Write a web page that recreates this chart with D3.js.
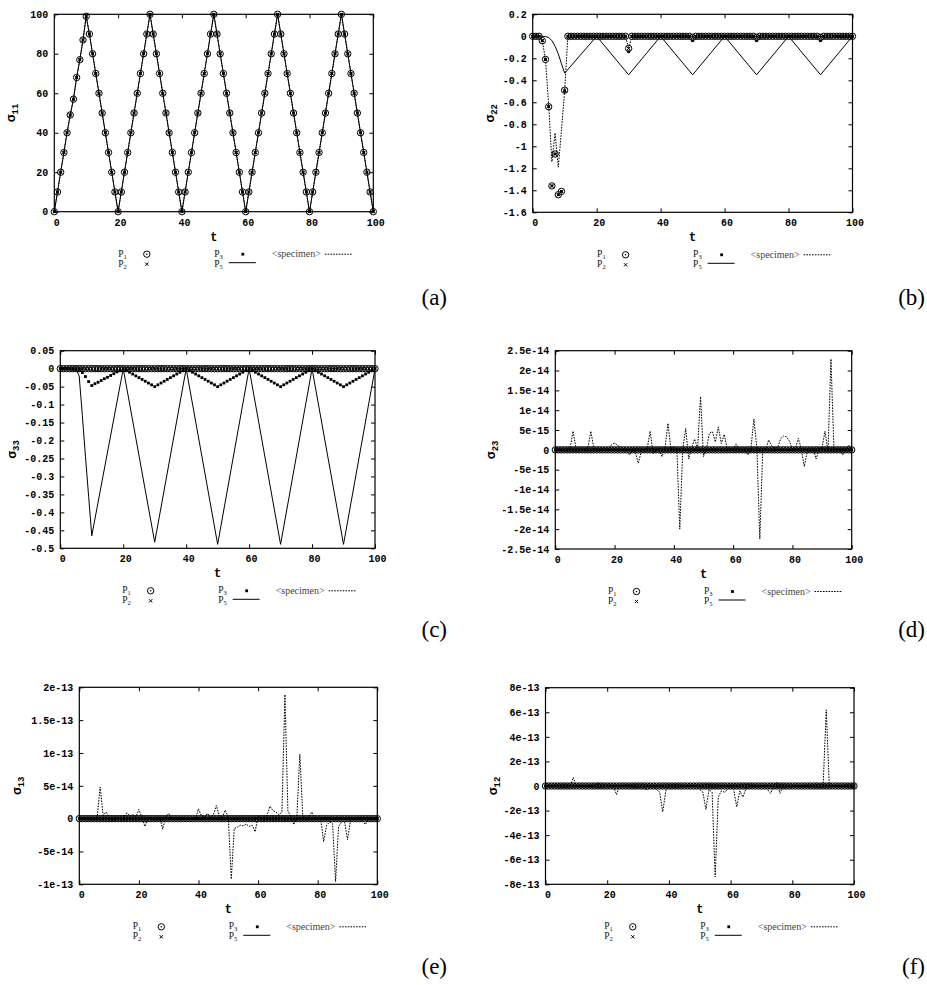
<!DOCTYPE html>
<html>
<head>
<meta charset="utf-8">
<script src="https://cdn.jsdelivr.net/npm/d3@7"></script>
<style>
  html, body { margin: 0; padding: 0; background: #fff; }
  svg { display: block; }
</style>
</head>
<body>
<div id="chart"></div>
<script>
// time steps of the solver output
const tSteps = [
  0,1,2,3,4,5,6,7,8,9,10,11,12,13,14,15,16,17,18,19,
  20,21,22,23,24,25,26,27,28,29,30,31,32,33,34,35,36,37,38,39,
  40,41,42,43,44,45,46,47,48,49,50,51,52,53,54,55,56,57,58,59,
  60,61,62,63,64,65,66,67,68,69,70,71,72,73,74,75,76,77,78,79,
  80,81,82,83,84,85,86,87,88,89,90,91,92,93,94,95,96,97,98,99,100
];
const xTickValues = [0, 20, 40, 60, 80, 100];

const zeroRow = [
  0,0,0,0,0,0,0,0,0,0,0,0,0,0,0,0,0,0,0,0,
  0,0,0,0,0,0,0,0,0,0,0,0,0,0,0,0,0,0,0,0,
  0,0,0,0,0,0,0,0,0,0,0,0,0,0,0,0,0,0,0,0,
  0,0,0,0,0,0,0,0,0,0,0,0,0,0,0,0,0,0,0,0,
  0,0,0,0,0,0,0,0,0,0,0,0,0,0,0,0,0,0,0,0,0
];

// (a) sigma_11 - all models coincide
const sigma11 = [
  0,10,20,30,40,49,57,68,77,87,99,
  90,80,70,60,50,40,30,20,10,0,
  10,20,30,40,50,60,70,80,90,100,
  90,80,70,60,50,40,30,20,10,0,
  10,20,30,40,50,60,70,80,90,100,
  90,80,70,60,50,40,30,20,10,0,
  10,20,30,40,50,60,70,80,90,100,
  90,80,70,60,50,40,30,20,10,0,
  10,20,30,40,50,60,70,80,90,100,
  90,80,70,60,50,40,30,20,10,0
];
const sigma11Ticks = [0, 20, 40, 60, 80, 100];
const sigma11Labels = ["0", "20", "40", "60", "80", "100"];

// (b) sigma_22
const sigma22P1 = [
  0,0,0,-0.04,-0.21,-0.64,-1.36,-1.07,-1.44,-1.41,-0.49,
  0,0,0,0,0,0,0,0,0,0,
  0,0,0,0,0,0,0,0,0,-0.11,
  0,0,0,0,0,0,0,0,0,0,
  0,0,0,0,0,0,0,0,0,-0.01,
  0,0,0,0,0,0,0,0,0,0,
  0,0,0,0,0,0,0,0,0,-0.01,
  0,0,0,0,0,0,0,0,0,0,
  0,0,0,0,0,0,0,0,0,-0.01,
  0,0,0,0,0,0,0,0,0,0
];
const sigma22P3 = [
  0,0,0,-0.04,-0.21,-0.64,-1.36,-1.07,-1.44,-1.41,-0.5,
  0,0,0,0,0,0,0,0,0,0,
  0,0,0,0,0,0,0,0,0,-0.14,
  0,0,0,0,0,0,0,0,0,0,
  0,0,0,0,0,0,0,0,0,-0.04,
  0,0,0,0,0,0,0,0,0,0,
  0,0,0,0,0,0,0,0,0,-0.04,
  0,0,0,0,0,0,0,0,0,0,
  0,0,0,0,0,0,0,0,0,-0.04,
  0,0,0,0,0,0,0,0,0,0
];
const sigma22Specimen = [
  0,0,0,-0.04,-0.21,-0.63,-1.14,-0.88,-1.19,-0.85,-0.49,
  0,0,0,0,0,0,0,0,0,0,
  0,0,0,0,0,0,0,0,0,-0.11,
  0,0,0,0,0,0,0,0,0,0,
  0,0,0,0,0,0,0,0,0,0,
  0,0,0,0,0,0,0,0,0,0,
  0,0,0,0,0,0,0,0,0,0,
  0,0,0,0,0,0,0,0,0,0,
  0,0,0,0,0,0,0,0,0,0,
  0,0,0,0,0,0,0,0,0,0
];
const sigma22P5Time = [0, 1, 2, 3, 4, 5, 6, 7, 8, 9, 10, 20, 30, 40, 50, 60, 70, 80, 90, 100];
const sigma22P5 = [0, 0, 0, 0, -0.003, -0.01, -0.04, -0.09, -0.16, -0.25, -0.335, 0, -0.35, 0, -0.35, 0, -0.35, 0, -0.35, 0];
const sigma22Ticks = [0.2, 0, -0.2, -0.4, -0.6, -0.8, -1, -1.2, -1.4, -1.6];
const sigma22Labels = ["0.2", "0", "-0.2", "-0.4", "-0.6", "-0.8", "-1", "-1.2", "-1.4", "-1.6"];

// (c) sigma_33
const sigma33P3 = [
  0,0,0,0,0,0,-0.004,-0.011,-0.022,-0.036,-0.047,
  -0.042,-0.038,-0.033,-0.028,-0.024,-0.019,-0.014,-0.009,-0.005,0,
  -0.005,-0.010,-0.015,-0.020,-0.025,-0.030,-0.035,-0.040,-0.045,-0.050,
  -0.045,-0.040,-0.035,-0.030,-0.025,-0.020,-0.015,-0.010,-0.005,0,
  -0.005,-0.010,-0.015,-0.020,-0.025,-0.030,-0.035,-0.040,-0.045,-0.050,
  -0.045,-0.040,-0.035,-0.030,-0.025,-0.020,-0.015,-0.010,-0.005,0,
  -0.005,-0.010,-0.015,-0.020,-0.025,-0.030,-0.035,-0.040,-0.045,-0.050,
  -0.045,-0.040,-0.035,-0.030,-0.025,-0.020,-0.015,-0.010,-0.005,0,
  -0.005,-0.010,-0.015,-0.020,-0.025,-0.030,-0.035,-0.040,-0.045,-0.050,
  -0.045,-0.040,-0.035,-0.030,-0.025,-0.020,-0.015,-0.010,-0.005,0
];
const sigma33P5Time = [0, 5, 6, 7, 8, 9, 10, 20, 30, 40, 50, 60, 70, 80, 90, 100];
const sigma33P5 = [0, -0.002, -0.02, -0.13, -0.245, -0.355, -0.465, 0, -0.483, 0, -0.489, 0, -0.489, 0, -0.489, 0];
const sigma33Ticks = [0.05, 0, -0.05, -0.1, -0.15, -0.2, -0.25, -0.3, -0.35, -0.4, -0.45, -0.5];
const sigma33Labels = ["0.05", "0", "-0.05", "-0.1", "-0.15", "-0.2", "-0.25", "-0.3", "-0.35", "-0.4", "-0.45", "-0.5"];

// (d) sigma_23 specimen, in units of 1e-15
const sigma23Specimen = [
  0,0,0,0,-0.3,0.5,4.7,0.3,0,0.2,0,
  0.5,4.7,0.3,0,0,0,0,0.3,1.3,1.7,
  1.2,0.2,0,-0.3,-1.3,-0.2,-0.5,-3.4,-0.4,0,
  0.3,4.7,-1.0,0,0,-1.7,0.3,6.7,0.2,0.8,
  0.3,-20,0.2,5.4,-2.3,0.5,2.7,0.4,13.4,-1.7,
  0.3,4.2,4.6,2.0,5.8,1.6,3.9,0.3,0,0.2,
  1.5,0,0,0,-1.3,0.4,7.8,0.5,-22.5,0.3,
  0.2,2.5,1.0,0.6,0.5,2.8,3.5,3.3,2.2,0.2,
  0.3,2.9,0.2,-4.2,-0.5,0,0.3,-2.3,0.2,0.5,
  4.7,-0.5,22.9,0.4,0.2,0,-1.3,0,1.2,0
];
const sigma23Ticks = [25, 20, 15, 10, 5, 0, -5, -10, -15, -20, -25];
const sigma23Labels = ["2.5e-14", "2e-14", "1.5e-14", "1e-14", "5e-15", "0", "-5e-15", "-1e-14", "-1.5e-14", "-2e-14", "-2.5e-14"];

// (e) sigma_13 specimen, in units of 1e-14
const sigma13Specimen = [
  0,0,0,0,0,0,0.3,4.8,0.5,1.0,0.2,
  -0.4,0,0,0,0.2,0.9,0.4,0.6,0.3,1.4,
  0.2,-1.2,0,0,0,0,0.2,-1.6,0.3,0.8,
  0,0,0,0,0,0,0,0,0,1.5,
  0.4,0.2,0.8,0.2,0.6,2.0,0.4,0.3,1.3,0.2,
  -9.2,-1.5,-1.3,-1.0,-1.1,-0.8,-1.2,-1.0,-2.0,0.4,
  0,0.2,0.5,1.9,1.2,1.0,0.6,1.0,18.9,1.2,
  0.2,-0.9,0.2,9.8,0.4,0,0.2,1.0,0.2,0,
  0,-3.5,-1.0,-0.5,-0.8,-9.6,-1.2,-0.5,-0.4,-3.2,
  -0.3,0,0,0,-0.3,-0.9,0,0,0,0
];
const sigma13Ticks = [20, 15, 10, 5, 0, -5, -10];
const sigma13Labels = ["2e-13", "1.5e-13", "1e-13", "5e-14", "0", "-5e-14", "-1e-13"];

// (f) sigma_12 specimen, in units of 1e-13
const sigma12Specimen = [
  0,0,0,0,0,0,0,0,0,0.7,0,
  0,0,0,0,0,0,0.3,0,0,0,
  0,0,-0.7,0,0,0.1,0,0,0,0,
  0,-0.2,-0.3,-0.1,0,-0.3,-0.5,-2.1,-0.4,0,
  0,0,0,0,0,0,0,0,0,-0.3,
  -0.5,-1.9,-0.3,-0.5,-7.4,-0.9,-0.4,-0.5,-0.3,0,
  -0.3,-1.7,-0.4,-0.9,-0.2,0,0,0,0,0,
  0,-0.3,-0.6,0,0.3,-0.6,0,0,0,0,
  0,0,0,0,0,0,0,0,0,0.1,
  6.2,0,0,0,0,0,0,0,0,0
];
const sigma12Ticks = [8, 6, 4, 2, 0, -2, -4, -6, -8];
const sigma12Labels = ["8e-13", "6e-13", "4e-13", "2e-13", "0", "-2e-13", "-4e-13", "-6e-13", "-8e-13"];

const flatTime = [0, 100];
const flatLine = [0, 0];

// ---------------------------------------------------------------
const width = 927, height = 985;
const monoFont = "'Liberation Mono', 'Courier New', monospace";
const serifFont = "'Liberation Serif', 'Times New Roman', serif";

const svg = d3.select("#chart")
  .append("svg")
  .attr("width", width)
  .attr("height", height)
  .attr("viewBox", `0 0 ${width} ${height}`)
  .attr("xmlns", "http://www.w3.org/2000/svg");

svg.append("rect").attr("width", width).attr("height", height).attr("fill", "#fff");

const panels = [
  { tag: "(a)", sub: "11", left: 54.3, right: 373.3, top: 14.3, bottom: 211.7, ylabX: 15,
    domain: [0, 100], ticks: sigma11Ticks, labels: sigma11Labels,
    p1: sigma11, p2: sigma11, p3: sigma11, p5t: tSteps, p5: sigma11, spec: sigma11,
    tagX: 447, tagY: 305 },
  { tag: "(b)", sub: "22", left: 532.7, right: 852.5, top: 14.3, bottom: 212.3, ylabX: 493.5,
    domain: [-1.6, 0.2], ticks: sigma22Ticks, labels: sigma22Labels,
    p1: sigma22P1, p2: sigma22P1, p3: sigma22P3, p5t: sigma22P5Time, p5: sigma22P5, spec: sigma22Specimen,
    tagX: 925, tagY: 305 },
  { tag: "(c)", sub: "33", left: 60.3, right: 375, top: 350.7, bottom: 548.3, ylabX: 16,
    domain: [-0.5, 0.05], ticks: sigma33Ticks, labels: sigma33Labels,
    p1: zeroRow, p2: zeroRow, p3: sigma33P3, p5t: sigma33P5Time, p5: sigma33P5, spec: zeroRow,
    tagX: 447, tagY: 637 },
  { tag: "(d)", sub: "23", left: 555.3, right: 851.7, top: 350.7, bottom: 549, ylabX: 495,
    domain: [-25, 25], ticks: sigma23Ticks, labels: sigma23Labels,
    p1: zeroRow, p2: zeroRow, p3: zeroRow, p5t: flatTime, p5: flatLine, spec: sigma23Specimen,
    tagX: 925, tagY: 637 },
  { tag: "(e)", sub: "13", left: 79.3, right: 377.3, top: 687.3, bottom: 884.3, ylabX: 21,
    domain: [-10, 20], ticks: sigma13Ticks, labels: sigma13Labels,
    p1: zeroRow, p2: zeroRow, p3: zeroRow, p5t: flatTime, p5: flatLine, spec: sigma13Specimen,
    tagX: 447, tagY: 974 },
  { tag: "(f)", sub: "12", left: 545.5, right: 854, top: 687.7, bottom: 884.3, ylabX: 497,
    domain: [-8, 8], ticks: sigma12Ticks, labels: sigma12Labels,
    p1: zeroRow, p2: zeroRow, p3: zeroRow, p5t: flatTime, p5: flatLine, spec: sigma12Specimen,
    tagX: 925, tagY: 974 }
];

// marker helpers
function circleMarks(g, pts) {
  g.selectAll(null).data(pts).join("circle")
    .attr("cx", d => d[0]).attr("cy", d => d[1]).attr("r", 3.2)
    .attr("fill", "none").attr("stroke", "#000").attr("stroke-width", 1);
  g.selectAll(null).data(pts).join("circle")
    .attr("cx", d => d[0]).attr("cy", d => d[1]).attr("r", 0.8)
    .attr("fill", "#000");
}
function crossMarks(g, pts) {
  const s = 1.6;
  g.selectAll(null).data(pts).join("path")
    .attr("d", d => `M${d[0] - s},${d[1] - s}L${d[0] + s},${d[1] + s}M${d[0] - s},${d[1] + s}L${d[0] + s},${d[1] - s}`)
    .attr("stroke", "#000").attr("stroke-width", 1).attr("fill", "none");
}
function squareMarks(g, pts) {
  const s = 1.4;
  g.selectAll(null).data(pts).join("rect")
    .attr("x", d => d[0] - s).attr("y", d => d[1] - s)
    .attr("width", 2 * s).attr("height", 2 * s).attr("fill", "#000");
}

function drawPanel(p) {
  const g = svg.append("g");
  const x = d3.scaleLinear().domain([0, 100]).range([p.left, p.right]);
  const y = d3.scaleLinear().domain(p.domain).range([p.bottom, p.top]);

  // axes with mirrored inward ticks
  const styleAxis = sel => {
    sel.select(".domain").remove();
    sel.selectAll(".tick line").attr("stroke", "#000").attr("stroke-width", 1);
    sel.selectAll("text")
      .style("font-family", monoFont).style("font-size", "10px")
      .style("font-weight", "bold").attr("fill", "#000");
  };
  g.append("g").attr("transform", `translate(0,${p.bottom})`)
    .call(d3.axisBottom(x).tickValues(xTickValues).tickSizeInner(-4).tickSizeOuter(0).tickPadding(7))
    .call(styleAxis)
    .selectAll("text").attr("dx", 2);
  g.append("g").attr("transform", `translate(0,${p.top})`)
    .call(d3.axisTop(x).tickValues(xTickValues).tickSizeInner(-4).tickSizeOuter(0).tickFormat(""))
    .call(styleAxis);
  g.append("g").attr("transform", `translate(${p.left},0)`)
    .call(d3.axisLeft(y).tickValues(p.ticks).tickFormat((d, i) => p.labels[i]).tickSizeInner(-4).tickSizeOuter(0).tickPadding(6))
    .call(styleAxis);
  g.append("g").attr("transform", `translate(${p.right},0)`)
    .call(d3.axisRight(y).tickValues(p.ticks).tickSizeInner(-4).tickSizeOuter(0).tickFormat(""))
    .call(styleAxis);

  g.append("rect")
    .attr("x", p.left).attr("y", p.top)
    .attr("width", p.right - p.left).attr("height", p.bottom - p.top)
    .attr("fill", "none").attr("stroke", "#000").attr("stroke-width", 1.2);

  // axis titles
  g.append("text")
    .attr("x", (p.left + p.right) / 2).attr("y", p.bottom + 29)
    .attr("text-anchor", "middle")
    .style("font-family", monoFont).style("font-size", "12px").style("font-weight", "bold")
    .text("t");
  const yl = g.append("text")
    .attr("transform", `translate(${p.ylabX},${(p.top + p.bottom) / 2}) rotate(-90)`)
    .attr("text-anchor", "middle")
    .style("font-family", monoFont).style("font-weight", "bold");
  yl.append("tspan").style("font-size", "13px").text("σ");
  yl.append("tspan").attr("dy", 3).style("font-size", "9px").text(p.sub);

  // series
  const pts = arr => arr.map((v, i) => [x(tSteps[i]), y(v)]);
  circleMarks(g.append("g"), pts(p.p1));
  crossMarks(g.append("g"), pts(p.p2));
  squareMarks(g.append("g"), pts(p.p3));

  const line = d3.line().x(d => x(d[0])).y(d => y(d[1]));
  g.append("path")
    .datum(p.p5t.map((t, i) => [t, p.p5[i]]))
    .attr("d", line).attr("fill", "none")
    .attr("stroke", "#000").attr("stroke-width", 1);
  g.append("path")
    .datum(tSteps.map((t, i) => [t, p.spec[i]]))
    .attr("d", line).attr("fill", "none")
    .attr("stroke", "#000").attr("stroke-width", 1)
    .attr("stroke-dasharray", "1.6,1.2");

  // legend
  const cx = (p.left + p.right) / 2;
  const r1 = p.bottom + 42.5, r2 = p.bottom + 52.5;
  const lg = g.append("g");
  const pLabel = (lx, ly, s) => {
    const t = lg.append("text").attr("x", lx).attr("y", ly + 2.5)
      .style("font-family", serifFont).style("font-size", "9.5px").attr("fill", "#111");
    t.append("tspan").text("P");
    t.append("tspan").attr("dy", 1.8).style("font-size", "6.5px").text(s);
  };
  pLabel(cx - 95.5, r1, "1");
  pLabel(cx - 95.5, r2, "2");
  pLabel(cx + 0.5, r1, "3");
  pLabel(cx + 0.5, r2, "5");
  circleMarks(lg, [[cx - 67, r1]]);
  crossMarks(lg, [[cx - 67, r2]]);
  squareMarks(lg, [[cx + 29, r1]]);
  lg.append("line").attr("x1", cx + 15).attr("x2", cx + 42)
    .attr("y1", r2 - 1.5).attr("y2", r2 - 1.5)
    .attr("stroke", "#000").attr("stroke-width", 1);
  lg.append("text").attr("x", cx + 58).attr("y", r1 + 3)
    .style("font-family", serifFont).style("font-size", "10px").attr("fill", "#444")
    .text("<specimen>");
  lg.append("line").attr("x1", cx + 111).attr("x2", cx + 138)
    .attr("y1", r1).attr("y2", r1)
    .attr("stroke", "#000").attr("stroke-width", 1)
    .attr("stroke-dasharray", "1.6,1.2");

  // sub-figure tag
  svg.append("text")
    .attr("x", p.tagX).attr("y", p.tagY)
    .attr("text-anchor", "end")
    .style("font-family", serifFont).style("font-size", "23px")
    .text(p.tag);
}

panels.forEach(drawPanel);
</script>
</body>
</html>
